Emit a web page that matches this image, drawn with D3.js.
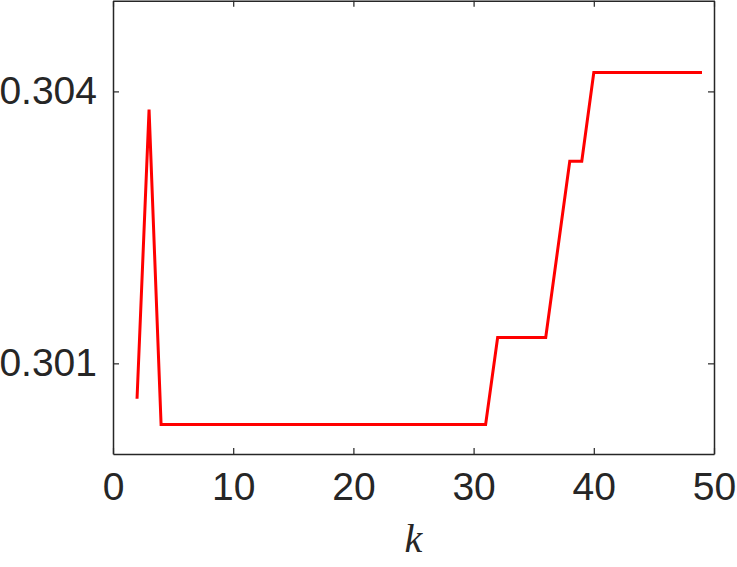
<!DOCTYPE html>
<html>
<head>
<meta charset="utf-8">
<script src="https://cdn.jsdelivr.net/npm/d3@7"></script>
<style>
  html, body { margin: 0; padding: 0; background: #fff; }
  svg { display: block; }
</style>
</head>
<body>
<svg id="chart" width="737" height="567"></svg>
<script>
const kValues = [2, 3, 4, 31, 32, 36, 38, 39, 40, 49];
const scoreValues = [0.30061, 0.30380, 0.300326, 0.300326, 0.301285, 0.301285, 0.30323, 0.30323, 0.304209, 0.304209];
const xTicks = [0, 10, 20, 30, 40, 50];
const yTicks = [0.301, 0.304];
const xDomain = [0, 50];
const yDomain = [0.300, 0.305];
const xLabel = "k";

const svg = d3.select("#chart");
const mLeft = 113, mRight = 714, mTop = 0.75, mBottom = 454;
const x = d3.scaleLinear().domain(xDomain).range([mLeft, mRight]);
const y = d3.scaleLinear().domain(yDomain).range([mBottom, mTop]);
const axisColor = "#262626";
const font = "'Liberation Sans', Arial, Helvetica, sans-serif";

const data = kValues.map((k, i) => ({k, v: scoreValues[i]}));

// Line
svg.append("path")
  .datum(data)
  .attr("fill", "none")
  .attr("stroke", "#ff0000")
  .attr("stroke-width", 3)
  .attr("stroke-linejoin", "miter")
  .attr("d", d3.line().x(d => x(d.k)).y(d => y(d.v)));

// Axes
function styleAxis(g, showLabels) {
  g.select(".domain").attr("stroke", axisColor).attr("stroke-width", 1.5);
  g.selectAll(".tick line").attr("stroke", axisColor).attr("stroke-width", 1.2);
  g.selectAll(".tick text")
    .attr("fill", axisColor)
    .style("font-family", font)
    .style("font-size", "39px")
    .style("display", showLabels ? null : "none");
}

const xb = svg.append("g").attr("transform", `translate(0,${mBottom})`)
  .call(d3.axisBottom(x).tickValues(xTicks).tickSizeInner(-6).tickSizeOuter(0).tickPadding(18).tickFormat(d3.format("d")));
styleAxis(xb, true);
xb.selectAll(".tick text").attr("dy", "0.71em");

const xt = svg.append("g").attr("transform", `translate(0,${mTop})`)
  .call(d3.axisTop(x).tickValues(xTicks).tickSizeInner(-6).tickSizeOuter(0));
styleAxis(xt, false);

const yl = svg.append("g").attr("transform", `translate(${mLeft},0)`)
  .call(d3.axisLeft(y).tickValues(yTicks).tickSizeInner(-6).tickSizeOuter(0).tickPadding(16).tickFormat(d3.format(".3f")));
styleAxis(yl, true);

const yr = svg.append("g").attr("transform", `translate(${mRight},0)`)
  .call(d3.axisRight(y).tickValues(yTicks).tickSizeInner(-6).tickSizeOuter(0));
styleAxis(yr, false);

// X label
svg.append("text")
  .attr("x", (mLeft + mRight) / 2)
  .attr("y", 552)
  .attr("text-anchor", "middle")
  .attr("fill", axisColor)
  .style("font-family", "'Liberation Serif', 'DejaVu Serif', serif")
  .style("font-style", "italic")
  .style("font-size", "40px")
  .text(xLabel);
</script>
</body>
</html>
